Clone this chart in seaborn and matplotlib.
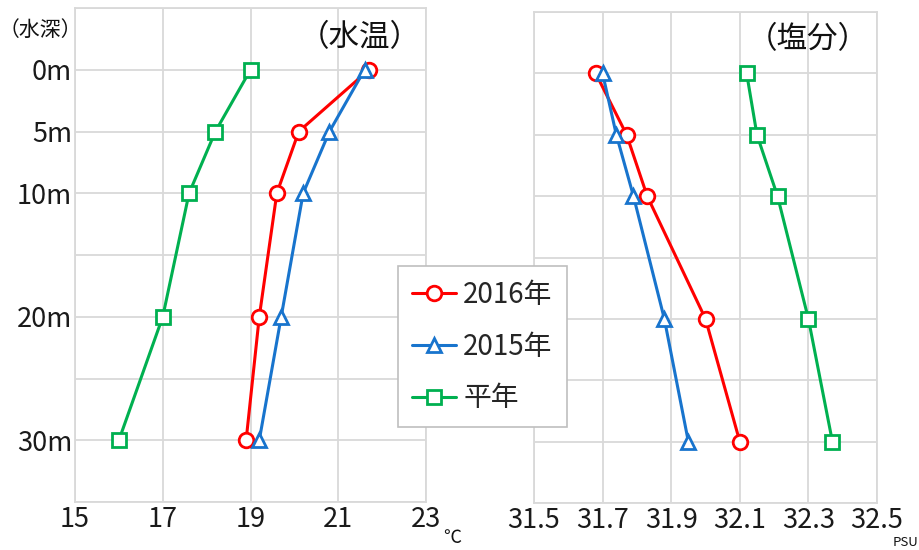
import matplotlib
matplotlib.use("Agg")
import matplotlib.pyplot as plt
import seaborn as sns
import pandas as pd

sns.set_theme(style="white")
plt.rcParams['font.family'] = ['Noto Sans CJK JP', 'DejaVu Sans']

depths = [0, 5, 10, 20, 30]
series_names = ["2016年", "2015年", "平年"]
temp_2016 = [21.7, 20.1, 19.6, 19.2, 18.9]
temp_2015 = [21.6, 20.8, 20.2, 19.7, 19.2]
temp_normal = [19.0, 18.2, 17.6, 17.0, 16.0]
sal_2016 = [31.68, 31.77, 31.83, 32.0, 32.1]
sal_2015 = [31.70, 31.74, 31.79, 31.88, 31.95]
sal_normal = [32.12, 32.15, 32.21, 32.30, 32.37]
temp_ticks = [15, 17, 19, 21, 23]
sal_ticks = [31.5, 31.7, 31.9, 32.1, 32.3, 32.5]
depth_tick_labels = ["0m", "5m", "10m", "20m", "30m"]

colors = ["#FF0000", "#1874CD", "#00B050"]
markers = ["o", "^", "s"]
grid_c = "#D9D9D9"

fig = plt.figure(figsize=(9.2, 5.5), dpi=100)
ax1 = fig.add_axes([75/920, 1-502/550, 351/920, 494/550])
ax2 = fig.add_axes([534/920, 1-503/550, 343/920, 491/550])

def draw(ax, vals_list, xticks, xlim):
    for name, vals, c, m in zip(series_names, vals_list, colors, markers):
        df = pd.DataFrame({"x": vals, "depth": depths})
        sns.lineplot(data=df, x="x", y="depth", sort=False, ax=ax, color=c,
                     marker=m, markersize=10.5, markerfacecolor="white",
                     markeredgecolor=c, markeredgewidth=2, linewidth=2.2,
                     label=name, legend=False)
    ax.set_xlim(*xlim)
    ax.set_ylim(35, -5)
    ax.set_xticks(xticks)
    ax.set_xticklabels([f"{t:g}" if isinstance(t, int) else f"{t:.1f}" for t in xticks])
    ax.set_yticks(list(range(-5, 36, 5)))
    ax.grid(True, color=grid_c, linewidth=1.3)
    ax.set_axisbelow(True)
    for s in ax.spines.values():
        s.set_color(grid_c)
        s.set_linewidth(1.3)
    ax.tick_params(axis="both", length=0, labelsize=19.5, colors="#1a1a1a", pad=3)
    ax.set_xlabel("")
    ax.set_ylabel("")

draw(ax1, [temp_2016, temp_2015, temp_normal], temp_ticks, (15, 23))
draw(ax2, [sal_2016, sal_2015, sal_normal], sal_ticks, (31.5, 32.5))

lab_map = {d: l for d, l in zip(depths, depth_tick_labels)}
ax1.set_yticklabels([lab_map.get(t, "") for t in range(-5, 36, 5)])
ax1.tick_params(axis="y", pad=2)
ax2.set_yticklabels([])

fig.text(360/920, 1-38/550, "（水温）", fontsize=22, ha="center", va="center", color="#111111")
fig.text(808/920, 1-40/550, "（塩分）", fontsize=22, ha="center", va="center", color="#111111")
fig.text(40/920, 1-30/550, "（水深）", fontsize=15, ha="center", va="center", color="#111111")
fig.text(452/920, 1-538/550, "℃", fontsize=13, ha="center", va="center", color="#111111")
fig.text(918/920, 1-543/550, "PSU", fontsize=9.5, ha="right", va="center", color="#111111")

handles, labels = ax1.get_legend_handles_labels()
leg = fig.legend(handles, labels, loc="upper left",
                 bbox_to_anchor=(398/920, 1-266/550), fontsize=20,
                 frameon=True, fancybox=False, edgecolor="#BFBFBF",
                 framealpha=1, handlelength=1.6, handletextpad=0.25,
                 labelspacing=0.78, borderpad=0.5, borderaxespad=0)
leg.get_frame().set_linewidth(1.2)

fig.savefig("out.png", dpi=100)
